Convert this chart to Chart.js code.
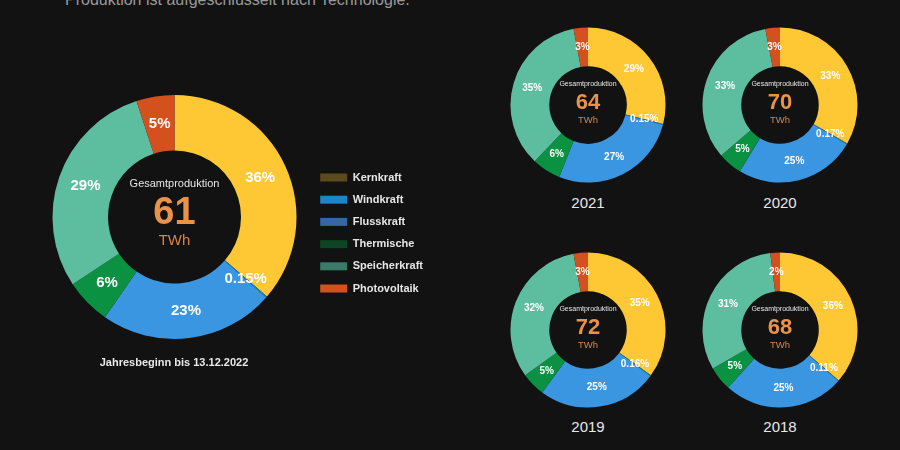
<!DOCTYPE html>
<html>
<head>
<meta charset="utf-8">
<script src="https://cdn.jsdelivr.net/npm/chart.js@4/dist/chart.umd.min.js"></script>
<style>
  body { margin: 0; background: #121212; width: 900px; height: 450px; overflow: hidden; position: relative; font-family: Arial, "Liberation Sans", sans-serif; }
  canvas, .txt { position: absolute; }
  .header { left: 65px; top: -8px; font-size: 16px; line-height: 16px; color: #9a9a9a; white-space: nowrap; }
  .caption { left: 74px; width: 200px; top: 356px; text-align: center; font-size: 11px; font-weight: bold; color: #e8e8e8; }
  .year { width: 100px; text-align: center; font-size: 15px; color: #e8e8e8; }
</style>
</head>
<body>
<div class="txt header">Produktion ist aufgeschlüsselt nach Technologie.</div>
<canvas id="main" width="450" height="450" style="left:0;top:0"></canvas>
<div class="txt caption">Jahresbeginn bis 13.12.2022</div>

<canvas id="c2021" width="160" height="160" style="left:508px;top:25px"></canvas>
<canvas id="c2020" width="160" height="160" style="left:700px;top:25px"></canvas>
<canvas id="c2019" width="160" height="160" style="left:508px;top:250px"></canvas>
<canvas id="c2018" width="160" height="160" style="left:700px;top:250px"></canvas>
<div class="txt year" style="left:538px;top:194px">2021</div>
<div class="txt year" style="left:730px;top:194px">2020</div>
<div class="txt year" style="left:538px;top:418px">2019</div>
<div class="txt year" style="left:730px;top:418px">2018</div>

<script>
// Anteile in Prozent, Reihenfolge wie Legende
const categories = ['Kernkraft', 'Windkraft', 'Flusskraft', 'Thermische', 'Speicherkraft', 'Photovoltaik'];
const share2022 = [36, 0.15, 23, 6, 29, 5];
const share2021 = [29, 0.15, 27, 6, 35, 3];
const share2020 = [33, 0.17, 25, 5, 33, 3];
const share2019 = [35, 0.16, 25, 5, 32, 3];
const share2018 = [36, 0.11, 25, 5, 31, 2];
const totals = { main: 61, c2021: 64, c2020: 70, c2019: 72, c2018: 68 };

const sliceColors = ['#fec834', '#1a86c8', '#3a96e0', '#0a9142', '#5dbd9f', '#d4501e'];
const legendColors = ['#5c4a1c', '#1a86c8', '#2f6aa6', '#0c4524', '#3a7a68', '#d4501e'];

Chart.defaults.font.family = 'Arial, "Liberation Sans", sans-serif';
Chart.defaults.animation = false;

const fmt = (v) => (v < 1 ? v + '%' : Math.round(v) + '%');

const pctLabels = {
  id: 'pctLabels',
  afterDatasetsDraw(chart, args, opts) {
    const ctx = chart.ctx;
    const meta = chart.getDatasetMeta(0);
    ctx.save();
    ctx.font = 'bold ' + opts.size + 'px Arial, "Liberation Sans", sans-serif';
    ctx.fillStyle = '#ffffff';
    ctx.textAlign = 'center';
    ctx.textBaseline = 'middle';
    meta.data.forEach((arc, i) => {
      const p = arc.tooltipPosition();
      ctx.fillText(fmt(chart.data.datasets[0].data[i]), p.x, p.y);
    });
    ctx.restore();
  },
};

const centerText = {
  id: 'centerText',
  afterDraw(chart, args, opts) {
    const ctx = chart.ctx;
    const arc = chart.getDatasetMeta(0).data[0];
    const x = arc.x, y = arc.y, s = opts.scale;
    ctx.save();
    ctx.textAlign = 'center';
    ctx.textBaseline = 'middle';
    ctx.fillStyle = '#e6e6e6';
    ctx.font = (7 * s) + 'px Arial, "Liberation Sans", sans-serif';
    ctx.fillText('Gesamtproduktion', x, y - 21 * s);
    ctx.fillStyle = '#e8924a';
    ctx.font = 'bold ' + opts.numSize + 'px Arial, "Liberation Sans", sans-serif';
    ctx.fillText(opts.total, x, y - 2 * s);
    ctx.fillStyle = '#d9843f';
    ctx.font = (9.5 * s) + 'px Arial, "Liberation Sans", sans-serif';
    ctx.fillText('TWh', x, y + 15.5 * s);
    ctx.restore();
  },
};

const donut = (id, values, radius, labelSize, scale, numSize, extra) => {
  const canvas = document.getElementById(id).getContext('2d');
  const options = {
    responsive: false,
    radius: radius,
    cutout: extra ? '54.5%' : '50%',
    layout: { padding: extra ? extra.padding : 0 },
    plugins: {
      legend: { display: false },
      tooltip: { enabled: false },
      pctLabels: { size: labelSize },
      centerText: { total: totals[id], scale: scale, numSize: numSize },
    },
  };
  if (extra) options.plugins.legend = extra.legend;
  return new Chart(canvas, {
    type: 'doughnut',
    data: {
      labels: [...categories],
      datasets: [{ data: [...values], backgroundColor: sliceColors, borderWidth: 0 }],
    },
    options: options,
    plugins: [pctLabels, centerText],
  });
};

donut('main', share2022, 122, 15, 1.57, 38, {
  padding: { left: 40, right: 17, top: 95, bottom: 111 },
  legend: {
    display: true,
    position: 'right',
    align: 'center',
    title: { display: true, text: ' ', padding: { top: 17.6, bottom: 0 }, font: { size: 12 } },
    labels: {
      boxWidth: 27,
      boxHeight: 8,
      padding: 11.2,
      color: '#e6e6e6',
      font: { size: 11, weight: 'bold' },
      generateLabels: () => categories.map((t, i) => ({
        text: t, fillStyle: legendColors[i], strokeStyle: legendColors[i], fontColor: '#e6e6e6',
        lineWidth: 0, hidden: false, index: i,
      })),
    },
  },
});
donut('c2021', share2021, 77.5, 10, 1, 22, null);
donut('c2020', share2020, 77.5, 10, 1, 22, null);
donut('c2019', share2019, 77.5, 10, 1, 22, null);
donut('c2018', share2018, 77.5, 10, 1, 22, null);
</script>
</body>
</html>
